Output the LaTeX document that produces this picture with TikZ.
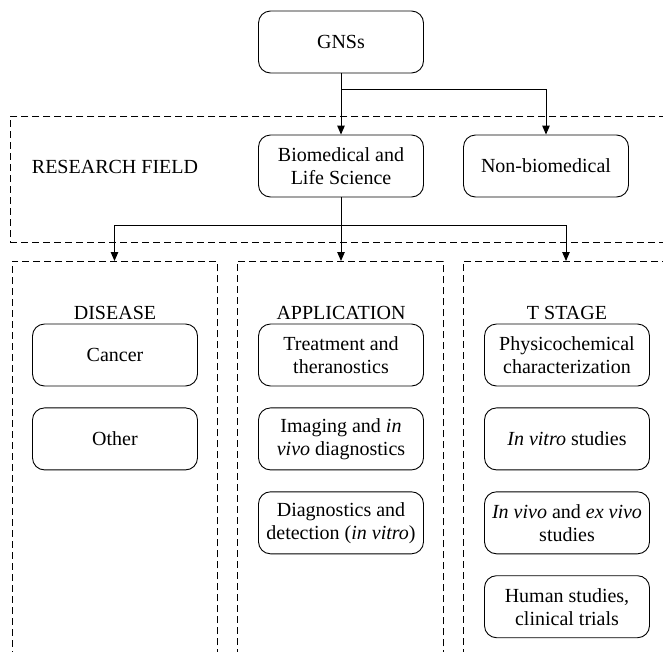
\documentclass[tikz,border=0pt]{standalone}
\usepackage{fontspec}
\setmainfont{Liberation Serif}
\usetikzlibrary{positioning,arrows.meta}

\begin{document}
\begin{tikzpicture}[x=1pt,y=-1pt,
  box/.style={draw, rounded corners=12pt, line width=0.9pt, minimum width=165pt,
              minimum height=62pt, align=center, inner sep=2pt,
              font=\fontsize{20}{23}\selectfont},
  zone/.style={draw, line width=0.8pt, dash pattern=on 7pt off 4pt},
  heading/.style={font=\fontsize{20}{23}\selectfont},
  arr/.style={-{Triangle[length=9pt,width=7.5pt]}, line width=1pt},
  node distance=21pt]
  \useasboundingbox (0,0) rectangle (663,651);

  % dashed zones
  \node[zone, anchor=north west, minimum width=672pt, minimum height=126pt] (fieldzone) at (10,116) {};
  \node[zone, anchor=north, minimum width=205pt, minimum height=410pt] (diszone) at (114.5,261) {};
  \node[zone, anchor=north, minimum width=206pt, minimum height=410pt] (appzone) at (340,261) {};
  \node[zone, anchor=north, minimum width=206pt, minimum height=410pt] (stagezone) at (566,261) {};

  % top levels
  \node[box] (gns) at (341,42) {GNSs};
  \node[box] (bio) at (341,166) {Biomedical and\\Life Science};
  \node[box] (nonbio) at (546,166) {Non-biomedical};
  \node[heading] (fieldlbl) at (115,167) {RESEARCH FIELD};

  % headings
  \node[heading] (dislbl) at (115,313) {DISEASE};
  \node[heading] (applbl) at (341,313) {APPLICATION};
  \node[heading] (stagelbl) at (567,313) {T STAGE};

  % disease
  \node[box] (cancer) at (115,355) {Cancer};
  \node[box, below=of cancer] (other) {Other};

  % application
  \node[box] (treat) at (341,355) {Treatment and\\theranostics};
  \node[box, below=of treat] (imaging) {Imaging and \textit{in}\\\textit{vivo} diagnostics};
  \node[box, below=of imaging] (detect) {Diagnostics and\\detection (\textit{in vitro})};

  % t stage
  \node[box] (physchem) at (567,355) {Physicochemical\\characterization};
  \node[box, below=of physchem] (invitro) {\textit{In vitro} studies};
  \node[box, below=of invitro] (invivo) {\textit{In vivo} and \textit{ex vivo}\\studies};
  \node[box, below=of invivo] (human) {Human studies,\\clinical trials};

  % connectors
  \coordinate (split1) at (341,89);
  \coordinate (split2) at (341,225);
  \draw[arr] (gns) -- (bio);
  \draw[arr] (split1) -| (nonbio.north);
  \draw[line width=1pt] (bio.south) -- (split2);
  \draw[arr] (split2) -| (diszone.north);
  \draw[arr] (split2) -- (appzone.north -| split2);
  \draw[arr] (split2) -| (stagezone.north);
\end{tikzpicture}
\end{document}
